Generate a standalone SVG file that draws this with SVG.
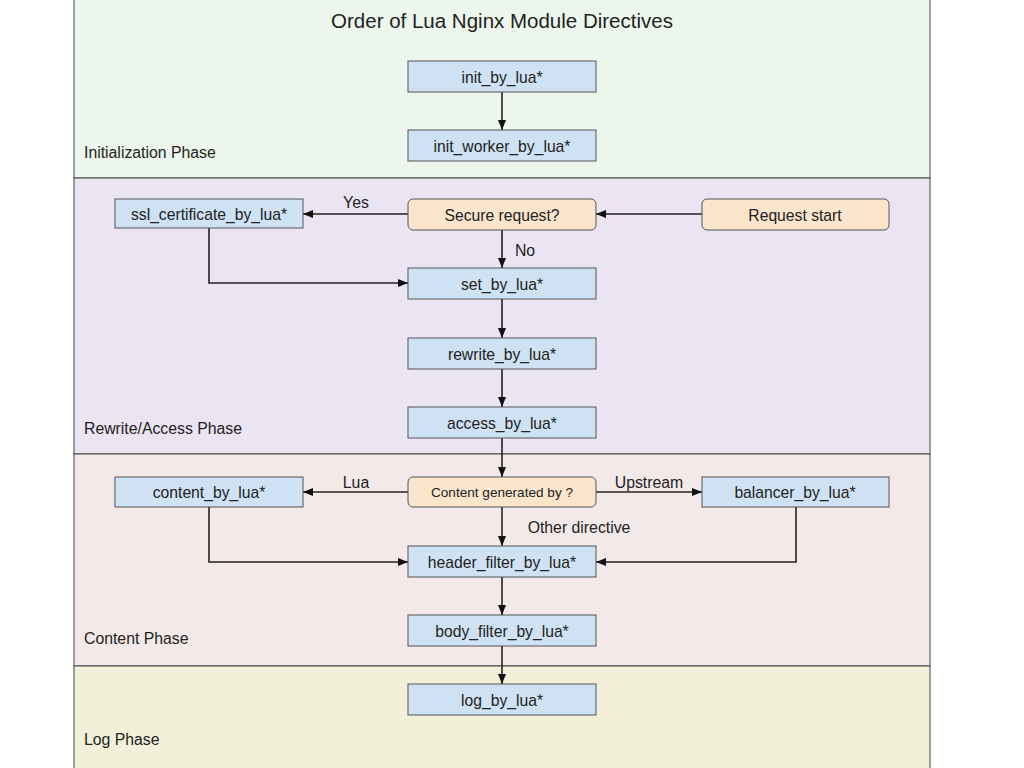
<svg xmlns="http://www.w3.org/2000/svg" width="1024" height="768" viewBox="0 0 1024 768">
<defs>
<style>
text{font-family:"Liberation Sans",Arial,sans-serif;fill:#222}
.band{stroke:#444;stroke-width:1}
.box{fill:#cfe2f3;stroke:#555;stroke-width:1}
.dec{fill:#fce5cd;stroke:#555;stroke-width:1}
.t{font-size:15.7px;text-anchor:middle}
.ph{font-size:15.8px}
.lbl{font-size:15.8px;text-anchor:middle}
.c{fill:none;stroke:#222;stroke-width:1.6}
</style>
<marker id="ah" viewBox="0 0 10 8" refX="10" refY="4" markerWidth="10" markerHeight="8" markerUnits="userSpaceOnUse" orient="auto">
<path d="M0,0 L10,4 L0,8 z" fill="#111"/>
</marker>
</defs>
<rect width="1024" height="768" fill="#fff"/>
<g id="bands">
<rect class="band" x="74" y="-1" width="856" height="179" fill="#edf6ec"/>
<rect class="band" x="74" y="178" width="856" height="276" fill="#ebe4f2"/>
<rect class="band" x="74" y="454" width="856" height="212" fill="#f3e9e8"/>
<rect class="band" x="74" y="666" width="856" height="103" fill="#f2f0d8"/>
<text class="ph" x="84" y="158">Initialization Phase</text>
<text class="ph" x="84" y="434">Rewrite/Access Phase</text>
<text class="ph" x="84" y="644">Content Phase</text>
<text class="ph" x="84" y="745">Log Phase</text>
<text x="502" y="28" font-size="20.5" text-anchor="middle">Order of Lua Nginx Module Directives</text>
</g>
<g id="connectors">
<path class="c" d="M502,92 V130" marker-end="url(#ah)"/>
<path class="c" d="M408,214 H303" marker-end="url(#ah)"/>
<path class="c" d="M702,214 H596" marker-end="url(#ah)"/>
<path class="c" d="M502,230 V268" marker-end="url(#ah)"/>
<path class="c" d="M209,228 V283 H408" marker-end="url(#ah)"/>
<path class="c" d="M502,299 V338" marker-end="url(#ah)"/>
<path class="c" d="M502,369 V407" marker-end="url(#ah)"/>
<path class="c" d="M502,438 V477" marker-end="url(#ah)"/>
<path class="c" d="M408,492 H303" marker-end="url(#ah)"/>
<path class="c" d="M596,492 H702" marker-end="url(#ah)"/>
<path class="c" d="M502,507 V546" marker-end="url(#ah)"/>
<path class="c" d="M209,507 V562 H408" marker-end="url(#ah)"/>
<path class="c" d="M796,507 V562 H596" marker-end="url(#ah)"/>
<path class="c" d="M502,577 V615" marker-end="url(#ah)"/>
<path class="c" d="M502,646 V684" marker-end="url(#ah)"/>
<text class="lbl" x="356" y="208">Yes</text>
<text class="lbl" x="525" y="256">No</text>
<text class="lbl" x="356" y="488">Lua</text>
<text class="lbl" x="649" y="488">Upstream</text>
<text class="lbl" x="579" y="533">Other directive</text>
</g>
<g id="init_by_lua"><rect class="box" x="408" y="61" width="188" height="31"/><text class="t" x="502" y="83">init_by_lua*</text></g>
<g id="init_worker_by_lua"><rect class="box" x="408" y="130" width="188" height="31"/><text class="t" x="502" y="152">init_worker_by_lua*</text></g>
<g id="ssl_certificate_by_lua"><rect class="box" x="115" y="199" width="188" height="29"/><text class="t" x="209" y="220">ssl_certificate_by_lua*</text></g>
<g id="secure_request"><rect class="dec" x="408" y="199" width="188" height="31" rx="5"/><text class="t" x="502" y="221">Secure request?</text></g>
<g id="request_start"><rect class="dec" x="702" y="199" width="187" height="31" rx="5"/><text class="t" x="795" y="221">Request start</text></g>
<g id="set_by_lua"><rect class="box" x="408" y="268" width="188" height="31"/><text class="t" x="502" y="290">set_by_lua*</text></g>
<g id="rewrite_by_lua"><rect class="box" x="408" y="338" width="188" height="31"/><text class="t" x="502" y="360">rewrite_by_lua*</text></g>
<g id="access_by_lua"><rect class="box" x="408" y="407" width="188" height="31"/><text class="t" x="502" y="429">access_by_lua*</text></g>
<g id="content_by_lua"><rect class="box" x="115" y="477" width="188" height="30"/><text class="t" x="209" y="498">content_by_lua*</text></g>
<g id="content_generated"><rect class="dec" x="408" y="477" width="188" height="30" rx="5"/><text x="502" y="497" font-size="13.6" text-anchor="middle">Content generated by ?</text></g>
<g id="balancer_by_lua"><rect class="box" x="702" y="477" width="187" height="30"/><text class="t" x="795" y="498">balancer_by_lua*</text></g>
<g id="header_filter_by_lua"><rect class="box" x="408" y="546" width="188" height="31"/><text class="t" x="502" y="568">header_filter_by_lua*</text></g>
<g id="body_filter_by_lua"><rect class="box" x="408" y="615" width="188" height="31"/><text class="t" x="502" y="637">body_filter_by_lua*</text></g>
<g id="log_by_lua"><rect class="box" x="408" y="684" width="188" height="31"/><text class="t" x="502" y="706">log_by_lua*</text></g>
</svg>
